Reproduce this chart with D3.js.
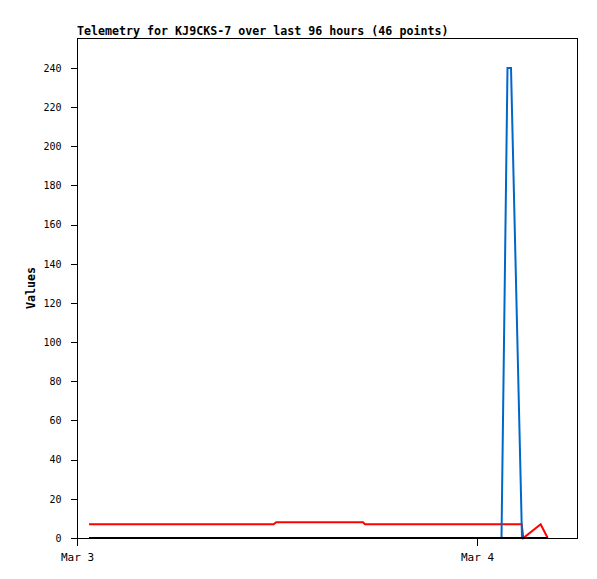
<!DOCTYPE html>
<html>
<head>
<meta charset="utf-8">
<script src="https://cdn.jsdelivr.net/npm/d3@7"></script>
<style>
  html, body { margin: 0; padding: 0; background: #fff; }
  svg { display: block; }
  text { font-family: "DejaVu Sans Mono", "Liberation Mono", monospace; fill: #000; }
</style>
</head>
<body>
<svg id="chart" width="597" height="579"></svg>
<script>
// ---- data (hours after Mar 3 00:00 UTC) ----
const titleText = "Telemetry for KJ9CKS-7 over last 96 hours (46 points)";
const yLabel = "Values";
const xTickDates = ["2024-03-03T00:00:00Z", "2024-03-04T00:00:00Z"];
const yTicks = [0, 20, 40, 60, 80, 100, 120, 140, 160, 180, 200, 220, 240];

const redHours  = [0.72, 11.8, 11.95, 17.16, 17.28, 26.68, 26.78, 27.82, 28.24];
const redValues = [7, 7, 8, 8, 7, 7, 0, 7, 0];

const blueHours  = [0.72, 25.47, 25.83, 26.04, 26.70, 28.24];
const blueValues = [0, 0, 240, 240, 0, 0];

const blackHours  = [0.72, 28.24];
const blackValues = [0, 0];

// ---- layout ----
const svg = d3.select("#chart");
const mLeft = 77, mRight = 577, mTop = 38, mBottom = 538;
const t0 = new Date("2024-03-03T00:00:00Z");
const toDate = h => new Date(t0.getTime() + h * 3600000);

const x = d3.scaleUtc()
  .domain([t0, toDate(30)])
  .range([mLeft, mRight]);
const y = d3.scaleLinear()
  .domain([0, 255.3])
  .range([mBottom, mTop]);

// title
svg.append("text")
  .attr("x", mLeft)
  .attr("y", 35)
  .attr("font-size", "11.65px")
  .attr("font-weight", "bold")
  .text(titleText);

// y label
svg.append("text")
  .attr("transform", `translate(35,288) rotate(-90)`)
  .attr("text-anchor", "middle")
  .attr("font-size", "11.65px")
  .attr("font-weight", "bold")
  .text(yLabel);

// series
const series = [
  { hours: redHours, values: redValues, color: "#ff0000" },
  { hours: blueHours, values: blueValues, color: "#0066cc" },
  { hours: blackHours, values: blackValues, color: "#000000" }
];
const line = d3.line()
  .x(d => x(d[0]))
  .y(d => y(d[1]));
series.forEach(s => {
  const pts = s.hours.map((h, i) => [toDate(h), s.values[i]]);
  svg.append("path")
    .attr("d", line(pts))
    .attr("fill", "none")
    .attr("stroke", s.color)
    .attr("stroke-width", 2)
    .attr("stroke-linejoin", "miter");
});

// frame
svg.append("rect")
  .attr("x", mLeft + 0.5).attr("y", mTop + 0.5)
  .attr("width", mRight - mLeft).attr("height", mBottom - mTop)
  .attr("fill", "none")
  .attr("stroke", "#000")
  .attr("stroke-width", 1)
  .attr("shape-rendering", "crispEdges");

// y axis
const yAxis = d3.axisLeft(y)
  .tickValues(yTicks)
  .tickSize(7)
  .tickPadding(9);
const yg = svg.append("g")
  .attr("transform", `translate(${mLeft + 0.5},0)`)
  .call(yAxis);
yg.select(".domain").remove();
yg.selectAll("line").attr("shape-rendering", "crispEdges");
yg.selectAll("text")
  .attr("font-family", "'DejaVu Sans Mono', monospace")
  .attr("font-size", "10px")
  .attr("fill", "#000");

// x axis
const xAxis = d3.axisBottom(x)
  .tickValues(xTickDates.map(d => new Date(d)))
  .tickFormat(d3.utcFormat("%b %-d"))
  .tickSize(7)
  .tickPadding(8);
const xg = svg.append("g")
  .attr("transform", `translate(0,${mBottom + 0.5})`)
  .call(xAxis);
xg.select(".domain").remove();
xg.selectAll("line").attr("shape-rendering", "crispEdges");
xg.selectAll("text")
  .attr("font-family", "'DejaVu Sans Mono', monospace")
  .attr("font-size", "11px")
  .attr("fill", "#000");
</script>
</body>
</html>
